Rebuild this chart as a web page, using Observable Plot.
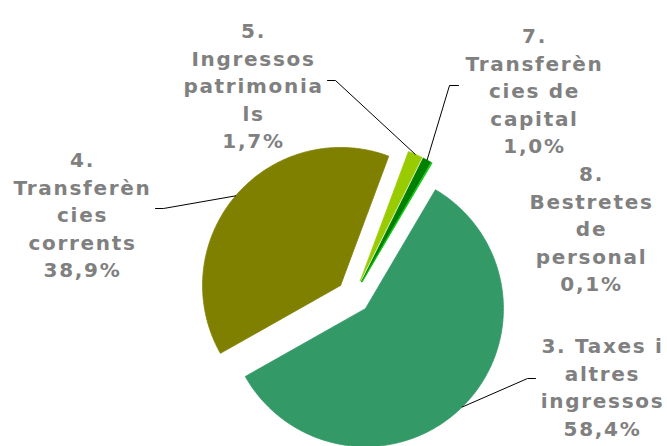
<!DOCTYPE html>
<html>
<head>
<meta charset="utf-8">
<script src="https://cdn.jsdelivr.net/npm/d3@7"></script>
<script src="https://cdn.jsdelivr.net/npm/@observablehq/plot@0.6"></script>
<style>
  html, body { margin: 0; padding: 0; background: #fff; }
  #chart { width: 667px; height: 446px; }
</style>
</head>
<body>
<div id="chart"></div>
<script>
// ---- data ----
const categories = [
  "3. Taxes i altres ingressos",
  "4. Transferències corrents",
  "5. Ingressos patrimonials",
  "7. Transferències de capital",
  "8. Bestretes de personal"
];
const values = [58.4, 38.9, 1.7, 1.0, 0.1];
const labelLines = [
  ["3. Taxes i", "altres", "ingressos"],
  ["4.", "Transferèn", "cies", "corrents"],
  ["5.", "Ingressos", "patrimonia", "ls"],
  ["7.", "Transferèn", "cies de", "capital"],
  ["8.", "Bestretes", "de", "personal"]
];
const colors = ["#339966", "#808000", "#99CC00", "#008000", "#00CC00"];

// ---- layout ----
const W = 667, H = 446;
const layout = {
  cx: 353, cy: 296, r: 138, explode: 17, startDeg: 30.5,
  labels: [
    {x: 602, y: 333, elbow: [[535, 378], [527, 378]]},
    {x: 82,  y: 147, elbow: [[155, 208], [163, 208]]},
    {x: 253, y: 18,  elbow: [[327, 80], [335, 80]]},
    {x: 534, y: 23,  elbow: [[458, 85], [449, 85]]},
    {x: 591, y: 161, elbow: null}
  ]
};

const fmt = v => v.toFixed(1).replace(".", ",") + "%";
const rows = categories.map((name, i) => ({name, value: values[i], color: colors[i], i}));

const start = layout.startDeg * Math.PI / 180;
const arcs = d3.pie().sort(null).value(d => d.value).startAngle(start).endAngle(start + 2 * Math.PI)(rows);

const slicePts = [];
const leaderPts = [];
const textRows = [];
arcs.forEach(a => {
  const d = a.data;
  const m = (a.startAngle + a.endAngle) / 2;
  const tx = layout.cx + layout.explode * Math.sin(m);
  const ty = layout.cy - layout.explode * Math.cos(m);
  slicePts.push({name: d.name, color: d.color, x: tx, y: ty});
  const n = Math.max(2, Math.ceil((a.endAngle - a.startAngle) / 0.01));
  for (let k = 0; k <= n; k++) {
    const t = a.startAngle + (a.endAngle - a.startAngle) * k / n;
    slicePts.push({name: d.name, color: d.color, x: tx + layout.r * Math.sin(t), y: ty - layout.r * Math.cos(t)});
  }
  slicePts.push({name: d.name, color: d.color, x: tx, y: ty});

  const L = layout.labels[d.i];
  if (L.elbow) {
    L.elbow.forEach(p => leaderPts.push({name: d.name, x: p[0], y: p[1]}));
    leaderPts.push({name: d.name, x: tx + layout.r * Math.sin(m), y: ty - layout.r * Math.cos(m)});
  }
  textRows.push({x: L.x, y: L.y, text: [...labelLines[d.i], fmt(d.value)].join("\n")});
});

const chart = Plot.plot({
  width: W, height: H, margin: 0,
  x: {domain: [0, W], range: [0, W], axis: null},
  y: {domain: [0, H], range: [0, H], axis: null},
  color: {type: "identity"},
  style: {background: "#fff", letterSpacing: "1.7px", overflow: "visible"},
  marks: [
    Plot.line(slicePts, {x: "x", y: "y", z: "name", fill: "color", stroke: "color", strokeWidth: 0.8, strokeLinejoin: "miter"}),
    Plot.line(leaderPts, {x: "x", y: "y", z: "name", stroke: "#000", strokeWidth: 1}),
    Plot.text(textRows, {
      x: "x", y: "y", text: "text", textAnchor: "middle", lineAnchor: "top",
      fontSize: 20, fontWeight: "bold", fontFamily: "DejaVu Sans, Verdana, sans-serif",
      fill: "#808080", lineHeight: 1.375
    })
  ]
});
document.getElementById("chart").appendChild(chart);
</script>
</body>
</html>
